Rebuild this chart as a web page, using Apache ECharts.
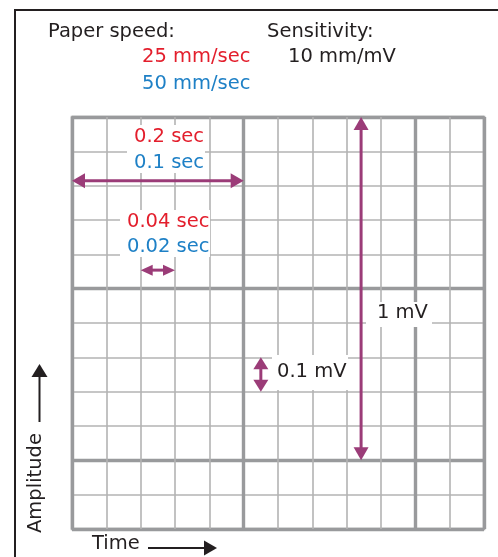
<!DOCTYPE html>
<html><head><meta charset="utf-8">
<script src="https://cdn.jsdelivr.net/npm/echarts@6/dist/echarts.min.js"></script>
<style>html,body{margin:0;padding:0;background:#fff}#c{width:498px;height:557px}</style>
</head><body><div id="c"></div>
<script>
// ECG paper: 12 x 12 small boxes (1 mm), heavy line every 5 boxes
const boxCount = 12;
const heavyEvery = 5;
const headerLabels = ['Paper speed:', 'Sensitivity:'];
const speedLabels = ['25 mm/sec', '50 mm/sec'];
const sensitivityLabel = '10 mm/mV';
const timeLabels25 = ['0.2 sec', '0.04 sec'];
const timeLabels50 = ['0.1 sec', '0.02 sec'];
const ampLabels = ['1 mV', '0.1 mV'];
const axisTitles = ['Amplitude', 'Time'];
// time arrows: spans in boxes [from, to] and their row (boxes from top)
const timeArrowSpans = [[0, 5], [2, 3]];
const timeArrowRows = [1.86, 4.46];
// amplitude arrows: spans in boxes [from, to] and their column
const ampArrowSpans = [[0, 10], [7, 8]];
const ampArrowCols = [8.42, 5.5];

const RED = '#e31e2c', BLUE = '#1e80c6', INK = '#231f20', PURPLE = '#9b3c78';
const FONT = '19.5px "DejaVu Sans"';

const arrowData = [];
timeArrowSpans.forEach((s, i) => arrowData.push([s[0], timeArrowRows[i], s[1], timeArrowRows[i]]));
ampArrowSpans.forEach((s, i) => arrowData.push([ampArrowCols[i], s[0], ampArrowCols[i], s[1]]));

function renderArrow(params, api) {
  const p1 = api.coord([api.value(0), api.value(1)]);
  const p2 = api.coord([api.value(2), api.value(3)]);
  const dx = p2[0] - p1[0], dy = p2[1] - p1[1];
  const len = Math.sqrt(dx * dx + dy * dy);
  const ux = dx / len, uy = dy / len, nx = -uy, ny = ux;
  const big = len > 60;
  const L = big ? 13 : 12, H = big ? 7.5 : (Math.abs(dx) > 0 ? 5.5 : 7.5);
  const head = (tip, s) => [
    [tip[0], tip[1]],
    [tip[0] - s * ux * L + nx * H, tip[1] - s * uy * L + ny * H],
    [tip[0] - s * ux * L - nx * H, tip[1] - s * uy * L - ny * H]
  ];
  return {
    type: 'group',
    children: [
      { type: 'line', shape: { x1: p1[0] + ux * L * 0.7, y1: p1[1] + uy * L * 0.7, x2: p2[0] - ux * L * 0.7, y2: p2[1] - uy * L * 0.7 },
        style: { stroke: PURPLE, lineWidth: 3 } },
      { type: 'polygon', shape: { points: head(p2, 1) }, style: { fill: PURPLE } },
      { type: 'polygon', shape: { points: head(p1, -1) }, style: { fill: PURPLE } }
    ]
  };
}

function txt(text, x, y, color) {
  return { type: 'text', z: 20, x: x, y: y, style: { text: text, font: FONT, fill: color, align: 'left', verticalAlign: 'middle' } };
}
function box(x, y, w, h) {
  return { type: 'rect', z: 15, shape: { x: x, y: y, width: w, height: h }, style: { fill: '#fff' } };
}

const thinAxis = { type: 'value', min: 0, max: boxCount, interval: 1, axisLine: { show: false }, axisTick: { show: false }, axisLabel: { show: false },
  splitLine: { show: true, lineStyle: { color: '#b3b3b3', width: 1.6 } } };
const heavyAxis = { type: 'value', min: 0, max: boxCount, interval: heavyEvery, axisLine: { show: false }, axisTick: { show: false }, axisLabel: { show: false },
  splitLine: { show: true, lineStyle: { color: '#999a9c', width: 3.4 } } };

const amplitudeTitle = txt(axisTitles[0], 36, 533, INK);
amplitudeTitle.rotation = Math.PI / 2;

const chart = echarts.init(document.getElementById('c'), null, { renderer: 'canvas' });
chart.setOption({
  animation: false,
  grid: { left: 72, top: 117, width: 412, height: 412, show: true, borderColor: '#a9a9a9', borderWidth: 2.6, backgroundColor: 'transparent' },
  xAxis: [Object.assign({}, thinAxis), Object.assign({}, heavyAxis)],
  yAxis: [Object.assign({ inverse: true }, thinAxis), Object.assign({ inverse: true }, heavyAxis)],
  series: [{
    type: 'custom', z: 30, xAxisIndex: 0, yAxisIndex: 0,
    encode: { x: [0, 2], y: [1, 3] },
    data: arrowData, renderItem: renderArrow, silent: true
  }],
  graphic: [
    { type: 'rect', z: 5, shape: { x: 15, y: 10, width: 700, height: 800 }, style: { fill: 'none', stroke: INK, lineWidth: 2 } },
    txt(headerLabels[0], 48, 32, INK),
    txt(headerLabels[1], 267, 32, INK),
    txt(speedLabels[0], 142, 57, RED),
    txt(speedLabels[1], 142, 83.5, BLUE),
    txt(sensitivityLabel, 288, 57, INK),
    box(127, 125, 78, 48),
    txt(timeLabels25[0], 134, 137, RED),
    txt(timeLabels50[0], 134, 163, BLUE),
    box(120, 210, 90, 47),
    txt(timeLabels25[1], 127, 222, RED),
    txt(timeLabels50[1], 127, 247, BLUE),
    box(366, 302, 66, 25),
    txt(ampLabels[0], 377, 313, INK),
    box(272, 355, 76, 35),
    txt(ampLabels[1], 277, 372, INK),
    // Amplitude axis title + arrow
    amplitudeTitle,
    { type: 'line', z: 20, shape: { x1: 39.5, y1: 422, x2: 39.5, y2: 372 }, style: { stroke: INK, lineWidth: 2 } },
    { type: 'polygon', z: 20, shape: { points: [[39.5, 364], [31.5, 377], [47.5, 377]] }, style: { fill: INK } },
    // Time axis title + arrow
    txt(axisTitles[1], 92, 544, INK),
    { type: 'line', z: 20, shape: { x1: 148, y1: 548, x2: 208, y2: 548 }, style: { stroke: INK, lineWidth: 2 } },
    { type: 'polygon', z: 20, shape: { points: [[217, 548], [204, 540.5], [204, 555.5]] }, style: { fill: INK } }
  ]
});
</script></body></html>
